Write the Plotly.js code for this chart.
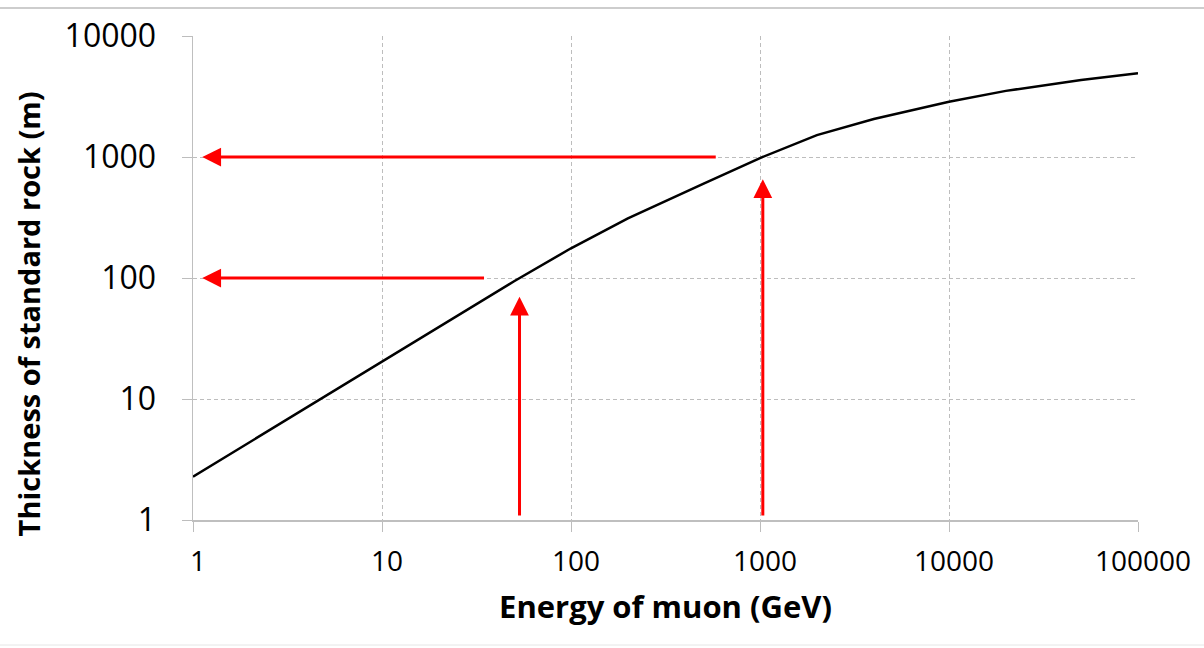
<!DOCTYPE html>
<html>
<head>
<meta charset="utf-8">
<script src="https://cdn.plot.ly/plotly-3.0.1.min.js"></script>
<style>html,body{margin:0;padding:0;background:#fff;}#chart{width:1204px;height:648px;}</style>
</head>
<body>
<div id="chart"></div>
<script>
// Muon energy (GeV) and thickness of standard rock (m)
const energyGeV = [1, 2, 5, 10, 20, 50, 100, 200, 500, 1000, 2000, 4000, 10000, 20000, 50000, 100000];
const thicknessM = [2.28, 4.4, 10.5, 20.3, 39.3, 94, 176, 311, 600, 980, 1518, 2060, 2866, 3520, 4320, 4920];

const xTickVals = [1, 10, 100, 1000, 10000, 100000];
const xTickText = ["1", "10", "100", "1000", "10000", "100000"];
const yTickVals = [1, 10, 100, 1000, 10000];
const yTickText = ["1", "10", "100", "1000", "10000"];

// Red arrows: tail (x0,y0) -> head (x1,y1), in data units
const arrowTailX = [594, 35.3, 53.4, 1035];
const arrowTailY = [1000, 100, 1.06, 1.06];
const arrowHeadX = [1.12, 1.12, 53.4, 1035];
const arrowHeadY = [1000, 100, 70, 654];

const xTitle = "Energy of muon (GeV)";
const yTitle = "Thickness of standard rock (m)";

const lg = Math.log10;
const annotations = arrowHeadX.map((hx, i) => ({
  x: lg(hx), y: lg(arrowHeadY[i]), xref: 'x', yref: 'y',
  ax: lg(arrowTailX[i]), ay: lg(arrowTailY[i]), axref: 'x', ayref: 'y',
  showarrow: true, arrowhead: 2, arrowsize: 1.25, arrowwidth: 3, arrowcolor: '#ff0000', text: ''
}));
annotations.push({
  text: yTitle, textangle: -90, xref: 'paper', yref: 'paper',
  x: -0.174, y: 0.426, showarrow: false, xanchor: 'center', yanchor: 'middle',
  font: {family: 'Open Sans', size: 29, color: '#000', weight: 'bold'}
});

const trace = {
  x: energyGeV, y: thicknessM, type: 'scatter', mode: 'lines',
  line: {color: '#000', width: 2.5}, hoverinfo: 'x+y'
};

const axisCommon = {
  type: 'log', showline: true, linecolor: '#bfbfbf', linewidth: 1.5,
  showgrid: true, gridcolor: '#bdbdbd', gridwidth: 1, griddash: '4px,3px',
  ticks: 'outside', ticklen: 10, tickcolor: '#bdbdbd', tickwidth: 1,
  zeroline: false, mirror: false
};

const layout = {
  width: 1204, height: 648,
  margin: {l: 193, r: 66, t: 36, b: 128},
  paper_bgcolor: '#fff', plot_bgcolor: '#fff',
  showlegend: false,
  xaxis: Object.assign({}, axisCommon, {
    range: [0, 5], tickvals: xTickVals, ticktext: xTickText,
    ticklabelstandoff: 6, ticklabelshift: 5,
    tickfont: {family: 'Open Sans', size: 28, color: '#000'},
    title: {text: xTitle, standoff: 18, font: {family: 'Open Sans', size: 31, color: '#000', weight: 'bold'}}
  }),
  yaxis: Object.assign({}, axisCommon, {
    range: [0, 4], tickvals: yTickVals, ticktext: yTickText,
    ticklabelstandoff: 19,
    tickfont: {family: 'Open Sans', size: 32, color: '#000'}
  }),
  annotations: annotations,
  shapes: [
    {type: 'line', xref: 'paper', yref: 'paper', x0: -0.3, x1: 1.2, y0: 1 + 28/484, y1: 1 + 28/484,
     line: {color: '#bdbdbd', width: 1.5}},
    {type: 'line', xref: 'paper', yref: 'paper', x0: -0.3, x1: 1.2, y0: -125/484, y1: -125/484,
     line: {color: '#e6e6e6', width: 1}}
  ]
};

Plotly.newPlot('chart', [trace], layout, {displayModeBar: false, staticPlot: true});
</script>
</body>
</html>
